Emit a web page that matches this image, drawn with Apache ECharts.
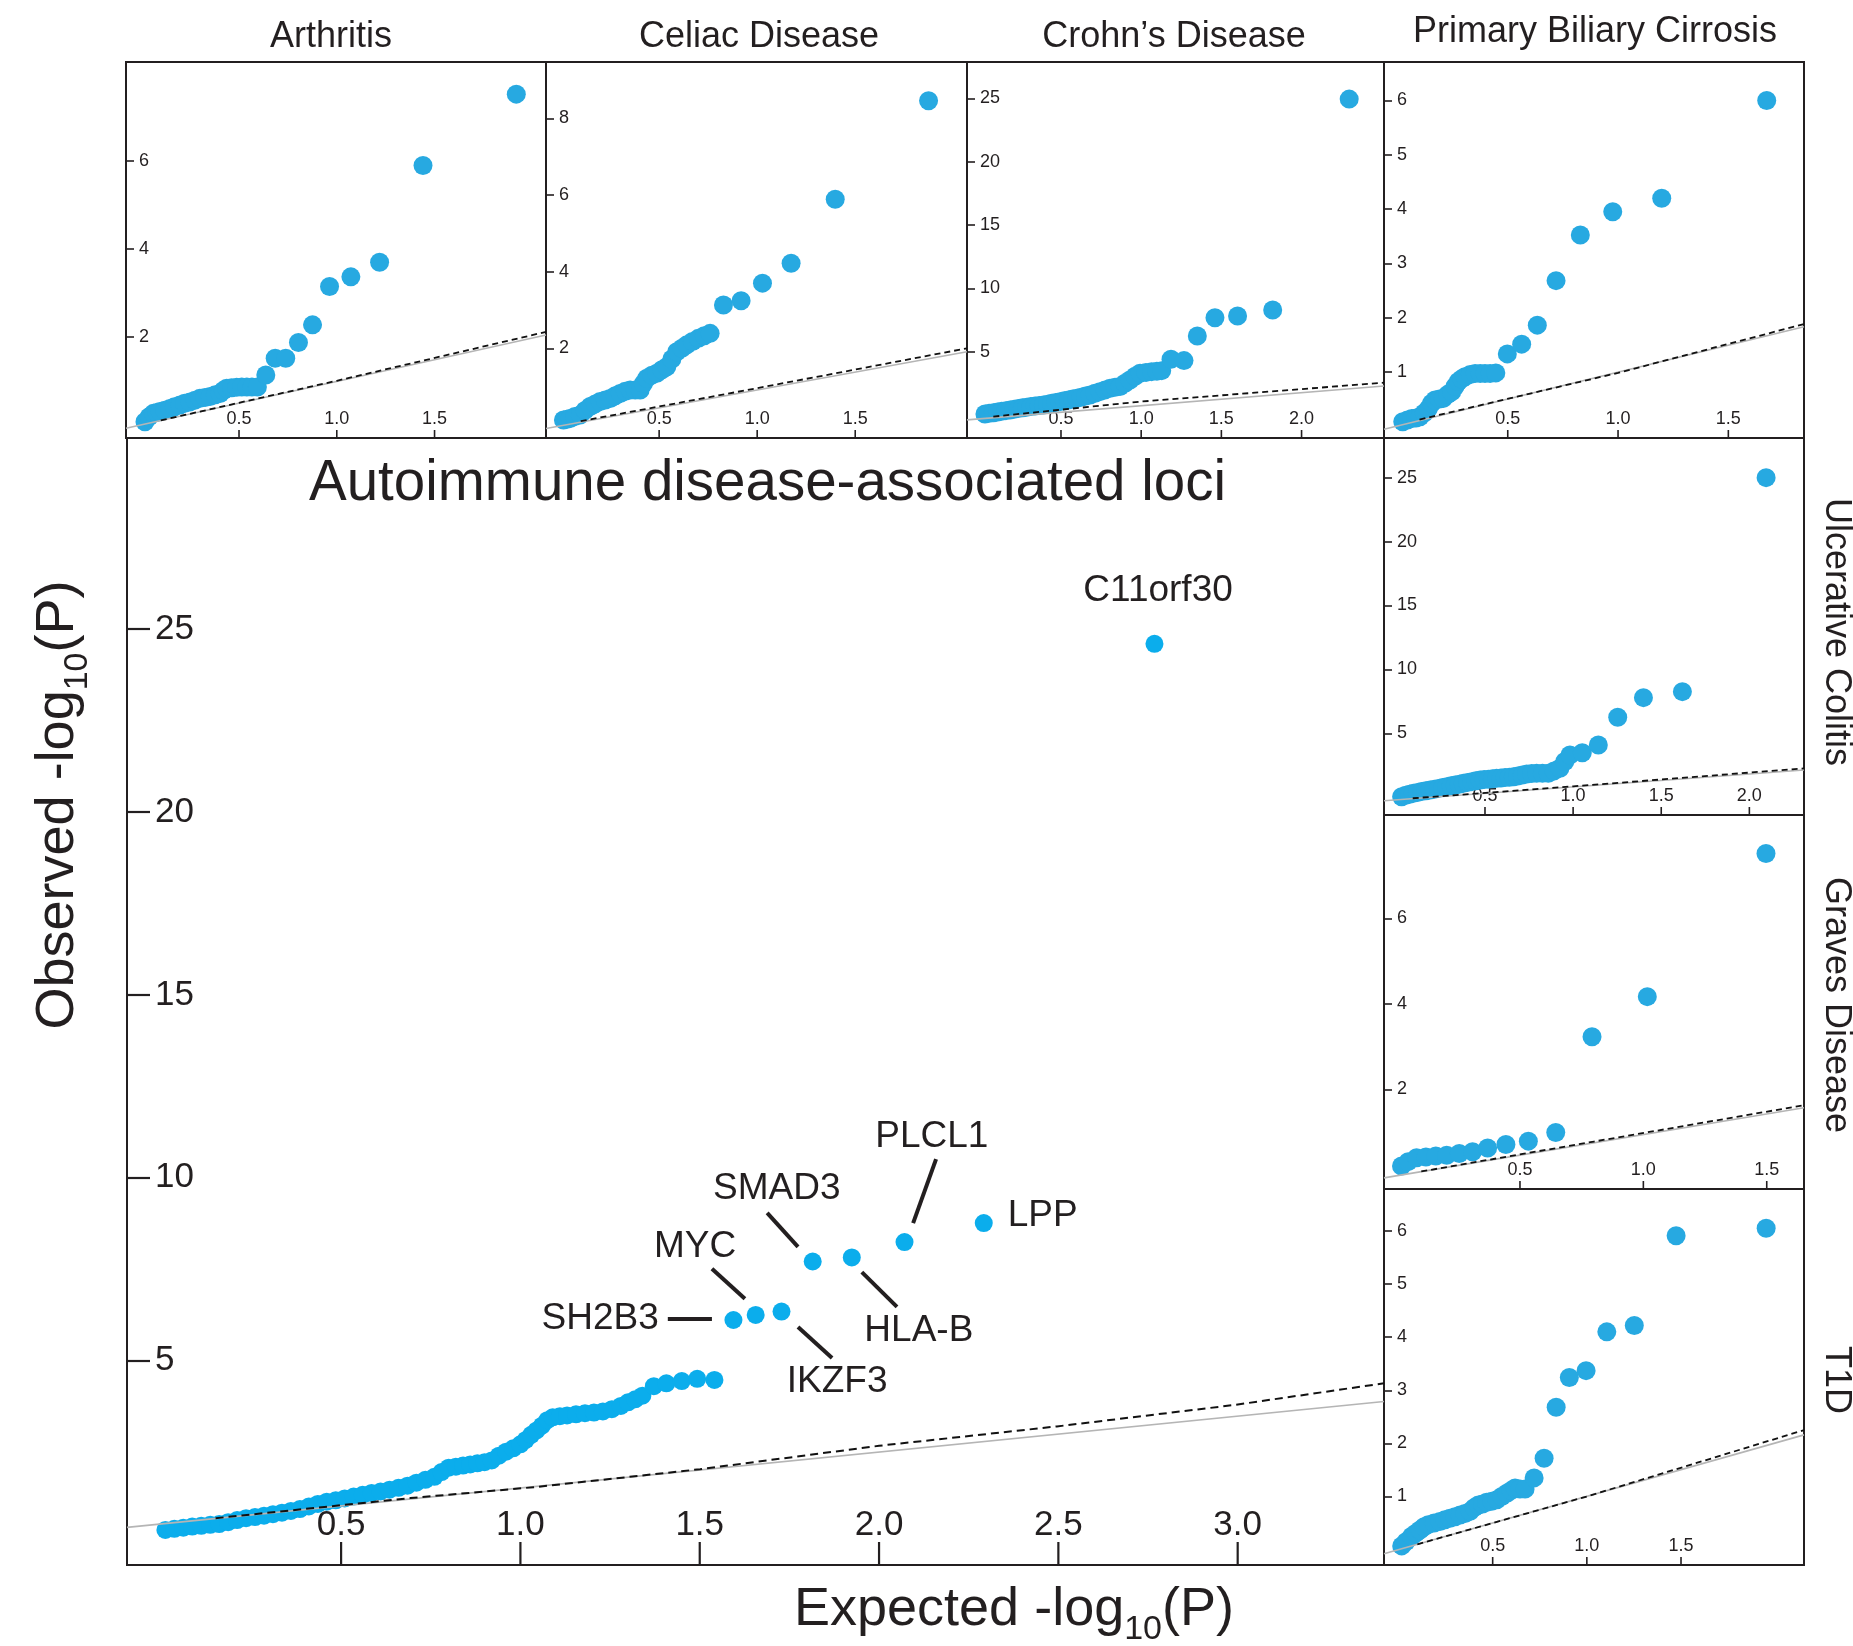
<!DOCTYPE html>
<html><head><meta charset="utf-8">
<script src="https://cdn.jsdelivr.net/npm/echarts@6/dist/echarts.min.js"></script>
<style>html,body{margin:0;padding:0;background:#fff}#c{width:1853px;height:1646px}</style>
</head><body><div id="c"></div>
<script>
// ---------------- DATA ----------------
const mainObserved = [
 [0.010,0.37],[0.035,0.40],[0.060,0.43],[0.085,0.46],[0.110,0.48],[0.135,0.51],[0.160,0.53],[0.185,0.58],
 [0.210,0.64],[0.235,0.69],[0.260,0.72],[0.285,0.76],[0.310,0.80],[0.335,0.84],[0.360,0.89],[0.385,0.94],
 [0.410,1.01],[0.435,1.08],[0.460,1.14],[0.485,1.18],[0.510,1.23],[0.535,1.28],[0.560,1.33],[0.585,1.38],
 [0.610,1.42],[0.635,1.47],[0.660,1.52],[0.685,1.58],[0.710,1.66],[0.735,1.74],[0.760,1.82],[0.780,1.95],
 [0.800,2.07],[0.820,2.10],[0.840,2.13],[0.860,2.16],[0.880,2.19],[0.900,2.22],[0.920,2.27],[0.940,2.40],
 [0.960,2.51],[0.980,2.60],[1.000,2.71],[1.015,2.83],[1.030,2.97],[1.045,3.09],[1.060,3.22],[1.075,3.37],
 [1.090,3.45],[1.110,3.48],[1.130,3.50],[1.155,3.53],[1.180,3.56],[1.205,3.58],[1.230,3.61],[1.255,3.67],
 [1.280,3.76],[1.300,3.86],[1.320,3.94],[1.340,4.04],[1.372,4.30],[1.407,4.38],[1.450,4.44],[1.493,4.50],
 [1.541,4.47]
];
const mainLoci = [
 ['SH2B3',1.594,6.11],['MYC',1.656,6.25],['IKZF3',1.728,6.34],['SMAD3',1.815,7.71],
 ['HLA-B',1.924,7.82],['PLCL1',2.071,8.24],['LPP',2.292,8.76],['C11orf30',2.768,24.60]
];
const mainExpectedLine = [[-0.097,0.44],[3.408,3.88]];
const mainUpperBound = [[0.150,0.69],[0.693,1.24],[1.040,1.54],[1.501,2.03],[2.000,2.67],[2.496,3.20],[2.994,3.79],[3.408,4.38]];
const mainXTicks = [0.5,1.0,1.5,2.0,2.5,3.0];
const mainYTicks = [5,10,15,20,25];

const arthritis = [
 [0.019,0.07],[0.040,0.18],[0.062,0.26],[0.080,0.28],[0.096,0.30],[0.120,0.33],[0.147,0.37],[0.170,0.41],
 [0.198,0.45],[0.222,0.49],[0.249,0.52],[0.275,0.56],[0.300,0.60],[0.326,0.62],[0.352,0.64],[0.378,0.68],
 [0.403,0.71],[0.420,0.78],[0.437,0.83],[0.462,0.84],[0.488,0.85],[0.514,0.86],[0.540,0.86],[0.566,0.86],
 [0.594,0.86],[0.637,1.13],[0.685,1.51],[0.739,1.51],[0.804,1.87],[0.876,2.27],[0.963,3.14],[1.072,3.36],
 [1.219,3.69],[1.441,5.89],[1.918,7.51]
];
const celiac = [
 [0.012,0.13],[0.030,0.15],[0.046,0.17],[0.070,0.22],[0.097,0.26],[0.122,0.38],[0.148,0.48],[0.174,0.55],
 [0.199,0.61],[0.225,0.65],[0.250,0.69],[0.276,0.76],[0.301,0.82],[0.327,0.88],[0.352,0.91],[0.378,0.91],
 [0.403,0.91],[0.420,1.08],[0.437,1.22],[0.463,1.30],[0.488,1.35],[0.514,1.44],[0.539,1.52],[0.565,1.72],
 [0.590,1.91],[0.616,2.00],[0.641,2.09],[0.670,2.18],[0.700,2.26],[0.730,2.33],[0.760,2.39],[0.828,3.13],
 [0.918,3.24],[1.027,3.70],[1.173,4.22],[1.398,5.89],[1.874,8.46]
];
const crohns = [
 [0.026,0.08],[0.052,0.13],[0.078,0.18],[0.104,0.24],[0.130,0.29],[0.156,0.34],[0.182,0.39],[0.208,0.45],
 [0.234,0.50],[0.260,0.56],[0.286,0.61],[0.312,0.66],[0.338,0.70],[0.364,0.75],[0.390,0.79],[0.416,0.84],
 [0.442,0.92],[0.468,0.98],[0.494,1.05],[0.520,1.12],[0.546,1.19],[0.572,1.26],[0.598,1.32],[0.625,1.40],
 [0.653,1.50],[0.681,1.58],[0.712,1.72],[0.743,1.84],[0.775,1.98],[0.806,2.11],[0.837,2.18],[0.868,2.24],
 [0.899,2.50],[0.930,2.76],[0.962,3.05],[0.993,3.29],[1.030,3.36],[1.065,3.42],[1.098,3.46],[1.128,3.50],
 [1.186,4.40],[1.267,4.29],[1.350,6.24],[1.460,7.68],[1.601,7.81],[1.820,8.29],[2.297,24.94]
];
const pbc = [
 [0.024,0.08],[0.045,0.11],[0.065,0.14],[0.084,0.15],[0.102,0.17],[0.121,0.24],[0.140,0.32],[0.155,0.42],
 [0.170,0.48],[0.190,0.50],[0.208,0.51],[0.227,0.58],[0.246,0.63],[0.261,0.73],[0.276,0.82],[0.291,0.87],
 [0.306,0.91],[0.330,0.95],[0.352,0.97],[0.375,0.97],[0.397,0.97],[0.420,0.97],[0.446,0.98],[0.498,1.33],
 [0.563,1.51],[0.634,1.86],[0.719,2.68],[0.829,3.52],[0.976,3.95],[1.198,4.20],[1.674,6.00]
];
const ulcerativeColitis = [
 [0.027,0.04],[0.050,0.15],[0.072,0.23],[0.093,0.31],[0.117,0.37],[0.140,0.44],[0.164,0.50],[0.188,0.56],
 [0.212,0.63],[0.236,0.69],[0.260,0.76],[0.283,0.82],[0.307,0.89],[0.330,0.96],[0.354,1.02],[0.377,1.09],
 [0.401,1.16],[0.425,1.22],[0.448,1.28],[0.472,1.35],[0.495,1.38],[0.519,1.41],[0.542,1.45],[0.566,1.48],
 [0.590,1.51],[0.614,1.54],[0.638,1.57],[0.661,1.60],[0.685,1.66],[0.711,1.74],[0.737,1.82],[0.765,1.85],
 [0.793,1.87],[0.826,1.87],[0.859,1.87],[0.892,2.06],[0.925,2.26],[0.953,2.80],[0.982,3.30],[1.052,3.48],
 [1.143,4.08],[1.253,6.25],[1.399,7.79],[1.620,8.26],[2.095,25.0]
];
const graves = [
 [0.020,0.21],[0.047,0.31],[0.081,0.40],[0.119,0.42],[0.159,0.44],[0.203,0.46],[0.254,0.50],[0.308,0.54],
 [0.369,0.63],[0.443,0.71],[0.534,0.79],[0.645,0.99],[0.792,3.23],[1.016,4.17],[1.497,7.52]
];
const t1d = [
 [0.017,0.07],[0.040,0.15],[0.070,0.25],[0.092,0.31],[0.114,0.37],[0.136,0.43],[0.158,0.47],[0.189,0.50],
 [0.220,0.53],[0.246,0.56],[0.273,0.59],[0.300,0.62],[0.327,0.65],[0.353,0.68],[0.380,0.72],[0.402,0.79],
 [0.424,0.84],[0.446,0.86],[0.468,0.89],[0.495,0.91],[0.522,0.94],[0.548,1.00],[0.575,1.06],[0.597,1.11],
 [0.619,1.16],[0.645,1.14],[0.672,1.14],[0.720,1.35],[0.773,1.72],[0.837,2.68],[0.907,3.24],[0.996,3.37],
 [1.106,4.10],[1.252,4.22],[1.474,5.91],[1.952,6.05]
];

const panelTitles = ['Arthritis','Celiac Disease','Crohn\u2019s Disease','Primary Biliary Cirrosis','Ulcerative Colitis','Graves Disease','T1D'];
const panelData = [arthritis, celiac, crohns, pbc, ulcerativeColitis, graves, t1d];
const panelExpected = [
 [[-0.078,-0.08],[2.07,2.04]], [[-0.077,-0.09],[2.07,1.91]], [[-0.086,-0.39],[2.514,2.29]],
 [[-0.061,-0.06],[1.843,1.83]], [[-0.073,-0.27],[2.31,2.13]], [[-0.051,-0.07],[1.651,1.57]],
 [[-0.077,-0.08],[2.153,2.16]]
];
const panelUpper = [
 [[0.10,0.10],[1.0,1.0],[2.07,2.11]], [[0.10,0.10],[1.0,0.96],[2.07,2.0]], [[0.078,-0.13],[0.993,1.05],[2.514,2.55]],
 [[0.10,0.12],[1.0,0.98],[1.843,1.88]], [[0.09,-0.08],[1.0,0.85],[2.31,2.26]], [[0.10,0.08],[0.8,0.78],[1.651,1.63]],
 [[0.10,0.10],[1.0,1.0],[2.153,2.25]]
];
const panelXTicks = [[0.5,1.0,1.5],[0.5,1.0,1.5],[0.5,1.0,1.5,2.0],[0.5,1.0,1.5],[0.5,1.0,1.5,2.0],[0.5,1.0,1.5],[0.5,1.0,1.5]];
const panelYTicks = [[2,4,6],[2,4,6,8],[5,10,15,20,25],[1,2,3,4,5,6],[5,10,15,20,25],[2,4,6],[1,2,3,4,5,6]];

// ---------------- LAYOUT / STYLE ----------------
const FONT = '"Liberation Sans", Arial, Helvetica, sans-serif';
const INK = '#231f20';
const DOT_MAIN = '#0badec';
const DOT_SMALL = '#27a9e1';

const mainBox = {left:127, top:438, width:1257, height:1127, x:[-0.097,3.408], y:[-0.59,30.23]};
const smallBoxes = [
 {left:126, top:62, width:420, height:376, x:[-0.078,2.07], y:[-0.30,8.24]},
 {left:546, top:62, width:421, height:376, x:[-0.077,2.07], y:[-0.34,9.47]},
 {left:967, top:62, width:417, height:376, x:[-0.086,2.514], y:[-1.82,27.87]},
 {left:1384, top:62, width:420, height:376, x:[-0.061,1.843], y:[-0.22,6.71]},
 {left:1384, top:438, width:420, height:377, x:[-0.073,2.31], y:[-1.39,28.1]},
 {left:1384, top:815, width:420, height:374, x:[-0.051,1.651], y:[-0.33,8.42]},
 {left:1384, top:1189, width:420, height:376, x:[-0.077,2.153], y:[-0.29,6.79]}
];
const titlePos = [[331,37,0],[759,37,0],[1174,37,0],[1595,32,0],[1836,632,-1],[1836,1005,-1],[1836,1380,-1]];

// label anchors (data coords of main panel) and leader segments
const lociLabelAt = {
 'SH2B3':[1.386,6.14,'right'], 'MYC':[1.487,8.11,'center'], 'IKZF3':[1.883,4.42,'center'],
 'SMAD3':[1.715,9.69,'center'], 'HLA-B':[2.111,5.81,'center'], 'PLCL1':[2.147,11.11,'center'],
 'LPP':[2.359,8.96,'left'], 'C11orf30':[2.778,26.05,'center']
};
const leaders = [
 [[1.411,6.14],[1.534,6.14]], [[1.534,7.51],[1.626,6.69]], [[1.688,9.04],[1.774,8.11]],
 [[2.159,10.51],[2.095,8.76]], [[1.952,7.42],[2.050,6.47]], [[1.774,5.92],[1.869,5.07]]
];

// ---------------- BUILD OPTION ----------------
const grids = [], xAxes = [], yAxes = [], series = [];
function addPanel(box, idx, cfg) {
  grids.push({left:box.left, top:box.top, width:box.width, height:box.height, show:true,
    borderColor:INK, borderWidth:2, backgroundColor:'transparent', containLabel:false});
  xAxes.push({gridIndex:idx, type:'value', min:box.x[0], max:box.x[1], position:'bottom',
    axisLine:{show:false, onZero:false}, splitLine:{show:false}, axisTick:{show:false},
    axisLabel:{show:true, inside:true, margin:cfg.xMargin, customValues:cfg.xt, color:INK, fontFamily:FONT,
      fontSize:cfg.fs, formatter:v => Number(v).toFixed(1)}});
  yAxes.push({gridIndex:idx, type:'value', min:box.y[0], max:box.y[1], position:'left',
    axisLine:{show:false, onZero:false}, splitLine:{show:false},
    axisTick:{show:true, inside:true, length:cfg.tickLen, customValues:cfg.yt, lineStyle:{color:INK, width:cfg.tickW}},
    axisLabel:{show:true, inside:true, margin:cfg.yMargin, customValues:cfg.yt, color:INK, fontFamily:FONT,
      fontSize:cfg.fs, formatter:v => String(Math.round(v))}});
  series.push({type:'scatter', xAxisIndex:idx, yAxisIndex:idx, data:cfg.pts, symbol:'circle',
    symbolSize:cfg.dot, itemStyle:{color:cfg.color, opacity:1}, silent:true, z:2, clip:false});
  series.push({type:'line', xAxisIndex:idx, yAxisIndex:idx, data:cfg.expected, showSymbol:false, symbol:'none',
    lineStyle:{color:'#b5b5b5', width:1.6}, silent:true, z:3});
  series.push({type:'line', xAxisIndex:idx, yAxisIndex:idx, data:cfg.upper, showSymbol:false, symbol:'none',
    lineStyle:{color:'#111', width:cfg.dashW, type:cfg.dash}, silent:true, z:4});
  // x-axis tick marks at the tick values, placed through the axis scale, pointing inward
  const tickLen = cfg.tickLen, tickW = cfg.tickW, yBase = box.y[0];
  series.push({type:'custom', xAxisIndex:idx, yAxisIndex:idx, silent:true, z:5, clip:false,
    data: cfg.xt.map(v => [v, yBase]),
    renderItem: (params, api) => {
      const p = api.coord([api.value(0), api.value(1)]);
      return {type:'line', shape:{x1:p[0], y1:p[1], x2:p[0], y2:p[1] - tickLen},
        style:{stroke:INK, lineWidth:tickW}};
    }});
}

addPanel(mainBox, 0, {tickLen:23, tickW:2.2, xMargin:22, yMargin:28, fs:35, xt:mainXTicks, yt:mainYTicks,
  pts:mainObserved.concat(mainLoci.map(d => [d[1], d[2]])), dot:18, color:DOT_MAIN,
  expected:mainExpectedLine, upper:mainUpperBound, dashW:2, dash:[8,5]});
smallBoxes.forEach((b, i) => addPanel(b, i + 1, {tickLen:8, tickW:1.6, xMargin:10, yMargin:13, fs:18,
  xt:panelXTicks[i], yt:panelYTicks[i], pts:panelData[i], dot:19, color:DOT_SMALL,
  expected:panelExpected[i], upper:panelUpper[i], dashW:1.8, dash:[6,4]}));

// locus name labels (anchored in main panel data space)
series.push({type:'scatter', xAxisIndex:0, yAxisIndex:0, symbolSize:0, silent:true, z:6,
  itemStyle:{color:'transparent'},
  data: mainLoci.map(d => {
    const a = lociLabelAt[d[0]];
    return {name:d[0], value:[a[0], a[1]], label:{align:a[2]}};
  }),
  label:{show:true, position:'inside', formatter:'{b}', color:INK, fontFamily:FONT, fontSize:37,
    verticalAlign:'middle', textBorderWidth:0, textBorderColor:'transparent', textShadowBlur:0, opacity:1}
});
series.push({type:'lines', coordinateSystem:'cartesian2d', xAxisIndex:0, yAxisIndex:0, silent:true, z:6,
  data: leaders.map(c => ({coords:c})), lineStyle:{color:INK, width:4, opacity:1, curveness:0}, effect:{show:false}});

// text elements
const graphics = [];
graphics.push({type:'text', x:309, y:484, silent:true, style:{text:'Autoimmune disease-associated loci',
  fontSize:56.5, fontFamily:FONT, fill:INK, align:'left', verticalAlign:'middle'}});
panelTitles.forEach((t, i) => {
  const p = titlePos[i];
  graphics.push({type:'text', x:p[0], y:p[1], rotation:p[2] * Math.PI / 2, silent:true,
    style:{text:t, fontSize:36, fontFamily:FONT, fill:INK, align:'center', verticalAlign:'middle'}});
});
const richAxis = {a:{fontSize:54, fontFamily:FONT, fill:INK}, s:{fontSize:34, fontFamily:FONT, fill:INK, padding:[40,0,0,0]}};
graphics.push({type:'text', x:1014, y:1610, silent:true, style:{text:'{a|Expected -log}{s|10}{a|(P)}',
  rich:richAxis, align:'center', verticalAlign:'middle'}});
graphics.push({type:'text', x:58, y:805, rotation:Math.PI / 2, silent:true, style:{text:'{a|Observed -log}{s|10}{a|(P)}',
  rich:richAxis, align:'center', verticalAlign:'middle'}});

const chart = echarts.init(document.getElementById('c'), null, {renderer:'canvas'});
chart.setOption({
  animation:false, backgroundColor:'#ffffff',
  grid:grids, xAxis:xAxes, yAxis:yAxes, series:series, graphic:graphics
});
</script></body></html>
